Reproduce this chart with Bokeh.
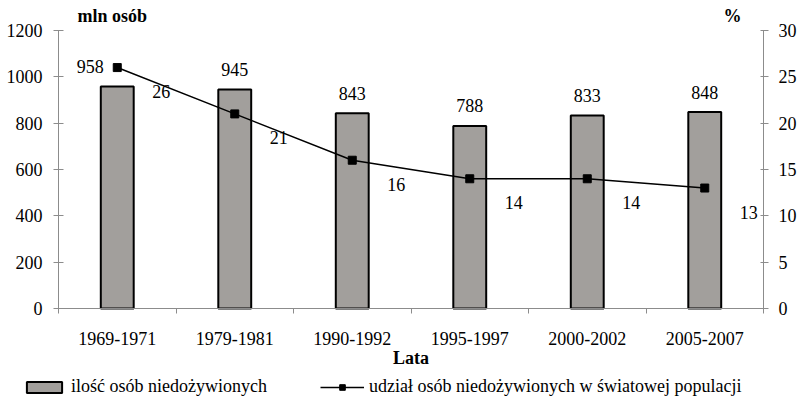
from bokeh.plotting import figure
from bokeh.models import (Range1d, LinearAxis, SingleIntervalTicker, FixedTicker,
                          CustomJSTickFormatter, ColumnDataSource, Legend, LegendItem, Label)
from bokeh.embed import file_html
from bokeh.resources import INLINE
from bokeh.core.properties import value

# ---- data ----
periods = ["1969-1971", "1979-1981", "1990-1992", "1995-1997", "2000-2002", "2005-2007"]
undernourished_mln = [958, 945, 843, 788, 833, 848]
share_pct = [26, 21, 16, 14, 14, 13]
left_max, left_step = 1200, 200
right_max, right_step = 30, 5

# ---- style / layout (pixels) ----
FONT = "Liberation Serif"
AX = "#8c8c8c"
BAR = "#a29f9c"
bar_label_dx = [-27, 0, 0, 0, 0, 0]
W, H = 798, 400
PL, PR, PT, PB = 58, 763, 30, 308   # plot-area edges inside the canvas

n = len(periods)
xc = [i + 0.5 for i in range(n)]

# the frame covers the whole canvas; axes are pinned at the data edges
px_x = (PR - PL) / n
px_l = (PB - PT) / left_max
px_r = (PB - PT) / right_max
x_range = Range1d(-PL / px_x, n + (W - PR) / px_x)
y_range = Range1d(-(H - PB) / px_l, left_max + PT / px_l)

p = figure(frame_width=W, frame_height=H, x_range=x_range, y_range=y_range,
           output_backend="svg", toolbar_location=None, min_border=0)
p.title.visible = False
p.extra_y_ranges = {"pct": Range1d(-(H - PB) / px_r, right_max + PT / px_r)}
p.outline_line_color = None
p.xgrid.visible = False
p.ygrid.visible = False
p.background_fill_color = "white"
p.border_fill_color = "white"

src = ColumnDataSource(dict(
    x=xc, v=undernourished_mln, pct=share_pct,
    vl=[str(v) for v in undernourished_mln], pl=[str(v) for v in share_pct],
    dx=bar_label_dx))

bars = p.vbar(x="x", top="v", width=0.28, source=src,
              fill_color=BAR, line_color="black", line_width=2)
line = p.line(x="x", y="pct", source=src, y_range_name="pct",
              line_color="black", line_width=1.5)
pts = p.scatter(x="x", y="pct", source=src, y_range_name="pct", marker="square",
                size=8, fill_color="black", line_color="black")

p.text(x="x", y="v", text="vl", source=src, x_offset="dx", y_offset=-20,
       text_align="center", text_baseline="alphabetic",
       text_font=value(FONT), text_font_size="18px", text_color="black")
p.text(x="x", y="pct", text="pl", source=src, y_range_name="pct",
       x_offset=44, y_offset=24, text_align="center", text_baseline="middle",
       text_font=value(FONT), text_font_size="18px", text_color="black")

# left axis
ya = p.yaxis[0]
ya.fixed_location = 0
ya.bounds = (0, left_max)
ya.ticker = SingleIntervalTicker(interval=left_step, num_minor_ticks=0)
ya.axis_line_color = AX
ya.major_tick_line_color = AX
ya.major_tick_in = 5
ya.major_tick_out = 5
ya.minor_tick_line_color = None
ya.major_label_text_font = FONT
ya.major_label_text_font_size = "18px"
ya.major_label_text_color = "black"
ya.major_label_standoff = 11

# right axis
ra = LinearAxis(y_range_name="pct", fixed_location=n, bounds=(0, right_max),
                ticker=SingleIntervalTicker(interval=right_step, num_minor_ticks=0))
ra.axis_line_color = AX
ra.major_tick_line_color = AX
ra.major_tick_in = 3
ra.major_tick_out = 5
ra.minor_tick_line_color = None
ra.major_label_text_font = FONT
ra.major_label_text_font_size = "18px"
ra.major_label_text_color = "black"
ra.major_label_standoff = 10
p.add_layout(ra, "right")

# x axis
xa = p.xaxis[0]
xa.fixed_location = 0
xa.bounds = (0, n)
xa.ticker = FixedTicker(ticks=xc, minor_ticks=list(range(n + 1)))
xa.formatter = CustomJSTickFormatter(
    args=dict(labels=periods),
    code="const i = Math.floor(tick); return (i >= 0 && i < labels.length) ? labels[i] : '';")
xa.axis_line_color = AX
xa.major_tick_line_color = None
xa.major_tick_in = 0
xa.major_tick_out = 0
xa.minor_tick_line_color = AX
xa.minor_tick_in = 0
xa.minor_tick_out = 5
xa.major_label_text_font = FONT
xa.major_label_text_font_size = "18px"
xa.major_label_text_color = "black"
xa.major_label_standoff = 18
xa.axis_label = "Lata"
xa.axis_label_text_font = FONT
xa.axis_label_text_font_size = "18px"
xa.axis_label_text_font_style = "bold"
xa.axis_label_text_color = "black"
xa.axis_label_standoff = 0

# axis titles
p.add_layout(Label(x=0, y=left_max, x_offset=19, y_offset=15, text="mln osób",
                   text_font=FONT, text_font_size="18px", text_font_style="bold",
                   text_baseline="middle", text_color="black"))
p.add_layout(Label(x=n, y=left_max, x_offset=-31, y_offset=15, text="%",
                   text_font=FONT, text_font_size="18px", text_font_style="bold",
                   text_align="center", text_baseline="middle", text_color="black"))

legend = Legend(items=[
    LegendItem(label="ilość osób niedożywionych", renderers=[bars]),
    LegendItem(label="udział osób niedożywionych w światowej populacji", renderers=[line, pts])],
    orientation="horizontal", location=(22, 3), padding=0, margin=0, spacing=53,
    glyph_width=44, glyph_height=14, label_standoff=5,
    border_line_color=None, background_fill_alpha=0,
    label_text_font=FONT, label_text_font_size="18px", label_text_color="black")
p.add_layout(legend, "center")

open("out.html", "w").write(file_html(p, INLINE))
